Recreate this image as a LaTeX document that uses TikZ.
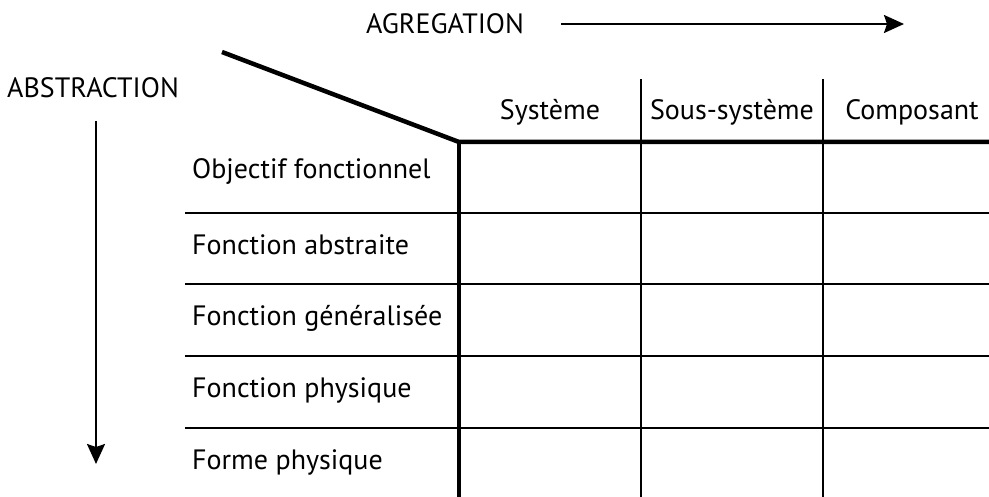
\documentclass[tikz,border=0pt]{standalone}
\usepackage{fontspec}
\setmainfont{PT Sans}
\usetikzlibrary{arrows.meta}
\begin{document}
\begin{tikzpicture}[x=1pt,y=-1pt,
  lbl/.style={anchor=west,inner sep=0pt,font=\fontsize{28}{32}\selectfont},
  hdr/.style={anchor=center,inner sep=0pt,font=\fontsize{28}{32}\selectfont},
  thin/.style={line width=2pt},
  thick/.style={line width=4.5pt},
  axis/.style={line width=2pt,-{Stealth[length=20pt,width=18pt,inset=3pt]}}]
\useasboundingbox (0,0) rectangle (989,497);
% axis labels
\node[hdr] (agr) at (445,24) {AGREGATION};
\coordinate (agrS) at (561,24);
\coordinate (agrE) at (904,24);
\draw[axis] (agrS) -- (agrE);
\node[hdr] (abs) at (93,88) {ABSTRACTION};
\coordinate (absS) at (96,121);
\coordinate (absE) at (96,464);
\draw[axis] (absS) -- (absE);
% grid
\coordinate (diag) at (222,52);
\coordinate (corner) at (459,142);
\coordinate (topR) at (989,142);
\coordinate (botL) at (459,497);
\foreach \y/\n in {213/r1,284/r2,356/r3,428/r4}{
  \coordinate (\n L) at (185,\y);
  \coordinate (\n R) at (989,\y);
  \draw[thin] (\n L) -- (\n R);
}
\foreach \x/\n in {641/c1,823/c2}{
  \coordinate (\n T) at (\x,79);
  \coordinate (\n B) at (\x,497);
  \draw[thin] (\n T) -- (\n B);
}
\draw[thick,line join=miter] (diag) -- (corner) -- (topR);
\draw[thick] (corner) -- (botL);
% headers
\node[hdr] (h1) at (550,112) {Système};
\node[hdr] (h2) at (732,112) {Sous-système};
\node[hdr] (h3) at (912,112) {Composant};
% row labels
\node[lbl] (l1) at (192,172) {Objectif fonctionnel};
\node[lbl] (l2) at (192,245) {Fonction abstraite};
\node[lbl] (l3) at (192,318) {Fonction généralisée};
\node[lbl] (l4) at (192,390) {Fonction physique};
\node[lbl] (l5) at (192,462) {Forme physique};
\end{tikzpicture}
\end{document}
